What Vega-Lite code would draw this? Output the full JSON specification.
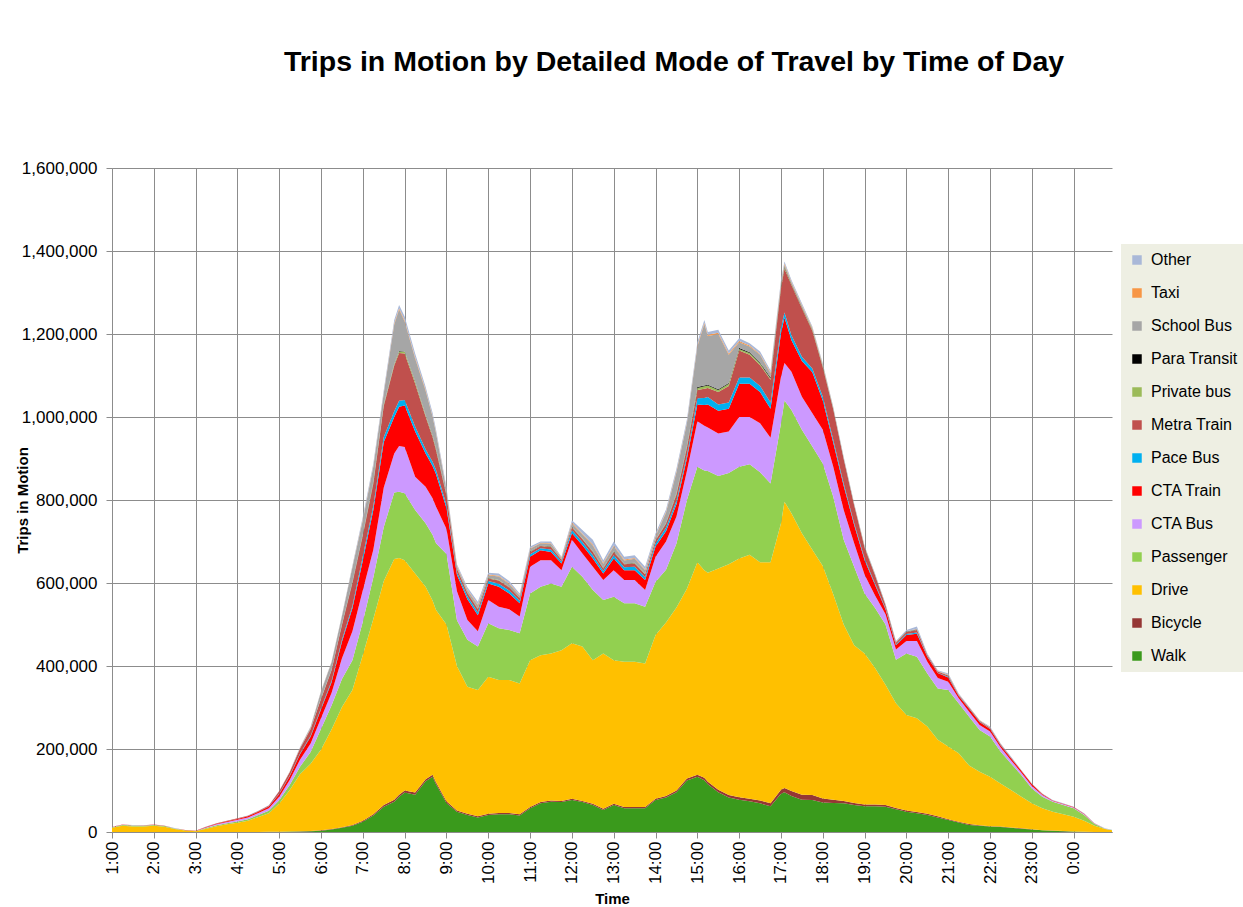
{
  "$schema": "https://vega.github.io/schema/vega-lite/v6.json",
  "width": 1000,
  "height": 664,
  "autosize": {"type": "none"},
  "padding": {"left": 112, "top": 168, "right": 131, "bottom": 75},
  "background": "white",
  "config": {"view": {"stroke": null}, "font": "Liberation Sans"},
  "title": {"text": "Trips in Motion by Detailed Mode of Travel by Time of Day", "fontSize": 28.5, "fontWeight": "bold", "color": "#000000", "anchor": "middle", "dx": 62, "offset": 83},
  "data": {"values": [
{"t":"2000-01-01T01:00","Walk":0,"Bicycle":0,"Drive":10000,"Passenger":1500,"CTA Bus":500,"CTA Train":300,"Pace Bus":0,"Metra Train":200,"Private bus":0,"Para Transit":0,"School Bus":0,"Taxi":0,"Other":200},
{"t":"2000-01-01T01:15","Walk":0,"Bicycle":0,"Drive":15000,"Passenger":2000,"CTA Bus":600,"CTA Train":300,"Pace Bus":0,"Metra Train":200,"Private bus":0,"Para Transit":0,"School Bus":0,"Taxi":0,"Other":200},
{"t":"2000-01-01T01:30","Walk":0,"Bicycle":0,"Drive":13500,"Passenger":2000,"CTA Bus":500,"CTA Train":300,"Pace Bus":0,"Metra Train":200,"Private bus":0,"Para Transit":0,"School Bus":0,"Taxi":0,"Other":200},
{"t":"2000-01-01T01:45","Walk":0,"Bicycle":0,"Drive":13000,"Passenger":2000,"CTA Bus":500,"CTA Train":300,"Pace Bus":0,"Metra Train":200,"Private bus":0,"Para Transit":0,"School Bus":0,"Taxi":0,"Other":200},
{"t":"2000-01-01T02:00","Walk":0,"Bicycle":0,"Drive":15000,"Passenger":2000,"CTA Bus":500,"CTA Train":300,"Pace Bus":0,"Metra Train":200,"Private bus":0,"Para Transit":0,"School Bus":0,"Taxi":0,"Other":200},
{"t":"2000-01-01T02:15","Walk":0,"Bicycle":0,"Drive":12500,"Passenger":1800,"CTA Bus":400,"CTA Train":300,"Pace Bus":0,"Metra Train":200,"Private bus":0,"Para Transit":0,"School Bus":0,"Taxi":0,"Other":200},
{"t":"2000-01-01T02:30","Walk":0,"Bicycle":0,"Drive":7500,"Passenger":1200,"CTA Bus":300,"CTA Train":200,"Pace Bus":0,"Metra Train":100,"Private bus":0,"Para Transit":0,"School Bus":0,"Taxi":0,"Other":200},
{"t":"2000-01-01T02:45","Walk":0,"Bicycle":0,"Drive":3500,"Passenger":800,"CTA Bus":200,"CTA Train":100,"Pace Bus":0,"Metra Train":100,"Private bus":0,"Para Transit":0,"School Bus":0,"Taxi":0,"Other":100},
{"t":"2000-01-01T03:00","Walk":0,"Bicycle":0,"Drive":2000,"Passenger":500,"CTA Bus":200,"CTA Train":100,"Pace Bus":0,"Metra Train":100,"Private bus":0,"Para Transit":0,"School Bus":0,"Taxi":0,"Other":100},
{"t":"2000-01-01T03:15","Walk":0,"Bicycle":0,"Drive":8000,"Passenger":1500,"CTA Bus":1500,"CTA Train":1000,"Pace Bus":0,"Metra Train":800,"Private bus":0,"Para Transit":0,"School Bus":0,"Taxi":0,"Other":200},
{"t":"2000-01-01T03:30","Walk":0,"Bicycle":0,"Drive":14000,"Passenger":2000,"CTA Bus":2500,"CTA Train":1500,"Pace Bus":0,"Metra Train":1000,"Private bus":0,"Para Transit":0,"School Bus":0,"Taxi":0,"Other":300},
{"t":"2000-01-01T03:45","Walk":0,"Bicycle":0,"Drive":18500,"Passenger":2500,"CTA Bus":3000,"CTA Train":2000,"Pace Bus":0,"Metra Train":1000,"Private bus":0,"Para Transit":0,"School Bus":0,"Taxi":0,"Other":300},
{"t":"2000-01-01T04:00","Walk":0,"Bicycle":0,"Drive":22500,"Passenger":3000,"CTA Bus":4000,"CTA Train":2000,"Pace Bus":0,"Metra Train":1500,"Private bus":0,"Para Transit":0,"School Bus":0,"Taxi":0,"Other":300},
{"t":"2000-01-01T04:15","Walk":200,"Bicycle":0,"Drive":27000,"Passenger":3500,"CTA Bus":4500,"CTA Train":2500,"Pace Bus":0,"Metra Train":1500,"Private bus":0,"Para Transit":0,"School Bus":0,"Taxi":0,"Other":300},
{"t":"2000-01-01T04:30","Walk":300,"Bicycle":0,"Drive":36000,"Passenger":4500,"CTA Bus":5000,"CTA Train":3000,"Pace Bus":0,"Metra Train":2000,"Private bus":0,"Para Transit":0,"School Bus":0,"Taxi":0,"Other":400},
{"t":"2000-01-01T04:45","Walk":400,"Bicycle":0,"Drive":45000,"Passenger":6000,"CTA Bus":6000,"CTA Train":4000,"Pace Bus":500,"Metra Train":2000,"Private bus":0,"Para Transit":0,"School Bus":0,"Taxi":0,"Other":500},
{"t":"2000-01-01T05:00","Walk":500,"Bicycle":200,"Drive":68000,"Passenger":8000,"CTA Bus":8000,"CTA Train":7000,"Pace Bus":1000,"Metra Train":6000,"Private bus":0,"Para Transit":0,"School Bus":0,"Taxi":0,"Other":1000},
{"t":"2000-01-01T05:15","Walk":1000,"Bicycle":300,"Drive":100000,"Passenger":12000,"CTA Bus":12000,"CTA Train":9000,"Pace Bus":1500,"Metra Train":8000,"Private bus":0,"Para Transit":0,"School Bus":1000,"Taxi":200,"Other":1000},
{"t":"2000-01-01T05:30","Walk":1500,"Bicycle":400,"Drive":138000,"Passenger":18000,"CTA Bus":17000,"CTA Train":13000,"Pace Bus":2000,"Metra Train":12000,"Private bus":0,"Para Transit":0,"School Bus":2000,"Taxi":300,"Other":1500},
{"t":"2000-01-01T05:45","Walk":2000,"Bicycle":500,"Drive":162000,"Passenger":28000,"CTA Bus":21000,"CTA Train":16000,"Pace Bus":2500,"Metra Train":16000,"Private bus":500,"Para Transit":0,"School Bus":4000,"Taxi":300,"Other":1500},
{"t":"2000-01-01T06:00","Walk":3000,"Bicycle":1000,"Drive":195000,"Passenger":50000,"CTA Bus":26000,"CTA Train":21000,"Pace Bus":3000,"Metra Train":22000,"Private bus":1000,"Para Transit":500,"School Bus":16000,"Taxi":500,"Other":1500},
{"t":"2000-01-01T06:15","Walk":6000,"Bicycle":1000,"Drive":240000,"Passenger":58000,"CTA Bus":30000,"CTA Train":25000,"Pace Bus":4000,"Metra Train":25000,"Private bus":1000,"Para Transit":500,"School Bus":18000,"Taxi":500,"Other":1500},
{"t":"2000-01-01T06:30","Walk":10000,"Bicycle":1500,"Drive":290000,"Passenger":67000,"CTA Bus":50000,"CTA Train":40000,"Pace Bus":5000,"Metra Train":35000,"Private bus":1500,"Para Transit":500,"School Bus":20000,"Taxi":500,"Other":2000},
{"t":"2000-01-01T06:45","Walk":15000,"Bicycle":2000,"Drive":325000,"Passenger":72000,"CTA Bus":70000,"CTA Train":55000,"Pace Bus":6000,"Metra Train":55000,"Private bus":2000,"Para Transit":1000,"School Bus":35000,"Taxi":1000,"Other":3000},
{"t":"2000-01-01T07:00","Walk":25000,"Bicycle":2000,"Drive":400000,"Passenger":80000,"CTA Bus":76000,"CTA Train":72000,"Pace Bus":10000,"Metra Train":50000,"Private bus":2000,"Para Transit":1000,"School Bus":34000,"Taxi":2000,"Other":6000},
{"t":"2000-01-01T07:15","Walk":40000,"Bicycle":3000,"Drive":470000,"Passenger":100000,"CTA Bus":67000,"CTA Train":96000,"Pace Bus":10000,"Metra Train":54000,"Private bus":3000,"Para Transit":1000,"School Bus":36000,"Taxi":2000,"Other":6000},
{"t":"2000-01-01T07:30","Walk":61000,"Bicycle":4000,"Drive":540000,"Passenger":130000,"CTA Bus":95000,"CTA Train":110000,"Pace Bus":12000,"Metra Train":75000,"Private bus":3000,"Para Transit":1000,"School Bus":26000,"Taxi":2000,"Other":6000},
{"t":"2000-01-01T07:45","Walk":73000,"Bicycle":5000,"Drive":580000,"Passenger":160000,"CTA Bus":94000,"CTA Train":88000,"Pace Bus":14000,"Metra Train":110000,"Private bus":3000,"Para Transit":1000,"School Bus":95000,"Taxi":3000,"Other":8000},
{"t":"2000-01-01T07:52","Walk":85000,"Bicycle":5000,"Drive":570000,"Passenger":160000,"CTA Bus":110000,"CTA Train":95000,"Pace Bus":14000,"Metra Train":115000,"Private bus":4000,"Para Transit":1000,"School Bus":100000,"Taxi":3000,"Other":8000},
{"t":"2000-01-01T08:00","Walk":95000,"Bicycle":5000,"Drive":555000,"Passenger":161000,"CTA Bus":112000,"CTA Train":100000,"Pace Bus":13000,"Metra Train":112000,"Private bus":4000,"Para Transit":1000,"School Bus":72000,"Taxi":3000,"Other":9000},
{"t":"2000-01-01T08:15","Walk":90000,"Bicycle":5000,"Drive":528000,"Passenger":153000,"CTA Bus":80000,"CTA Train":109000,"Pace Bus":12000,"Metra Train":104000,"Private bus":4000,"Para Transit":1000,"School Bus":55000,"Taxi":3000,"Other":9000},
{"t":"2000-01-01T08:30","Walk":122000,"Bicycle":5000,"Drive":464000,"Passenger":153000,"CTA Bus":88000,"CTA Train":80000,"Pace Bus":10000,"Metra Train":79000,"Private bus":3000,"Para Transit":1000,"School Bus":58000,"Taxi":3000,"Other":7000},
{"t":"2000-01-01T08:40","Walk":133000,"Bicycle":5000,"Drive":420000,"Passenger":158000,"CTA Bus":88000,"CTA Train":78000,"Pace Bus":10000,"Metra Train":60000,"Private bus":3000,"Para Transit":1000,"School Bus":45000,"Taxi":2000,"Other":7000},
{"t":"2000-01-01T08:45","Walk":115000,"Bicycle":5000,"Drive":415000,"Passenger":161000,"CTA Bus":88000,"CTA Train":78000,"Pace Bus":10000,"Metra Train":48000,"Private bus":3000,"Para Transit":1000,"School Bus":37000,"Taxi":2000,"Other":6000},
{"t":"2000-01-01T09:00","Walk":70000,"Bicycle":4000,"Drive":426000,"Passenger":170000,"CTA Bus":60000,"CTA Train":50000,"Pace Bus":8000,"Metra Train":22000,"Private bus":2000,"Para Transit":1000,"School Bus":10000,"Taxi":2000,"Other":5000},
{"t":"2000-01-01T09:15","Walk":49000,"Bicycle":3000,"Drive":348000,"Passenger":110000,"CTA Bus":70000,"CTA Train":40000,"Pace Bus":6000,"Metra Train":8000,"Private bus":1000,"Para Transit":500,"School Bus":5000,"Taxi":1500,"Other":3000},
{"t":"2000-01-01T09:30","Walk":41000,"Bicycle":3000,"Drive":306000,"Passenger":113000,"CTA Bus":48000,"CTA Train":50000,"Pace Bus":7000,"Metra Train":8000,"Private bus":1000,"Para Transit":500,"School Bus":5000,"Taxi":2000,"Other":5500},
{"t":"2000-01-01T09:45","Walk":35000,"Bicycle":3000,"Drive":304000,"Passenger":105000,"CTA Bus":37000,"CTA Train":38000,"Pace Bus":7000,"Metra Train":8000,"Private bus":1000,"Para Transit":500,"School Bus":8000,"Taxi":2000,"Other":6500},
{"t":"2000-01-01T10:00","Walk":41000,"Bicycle":3000,"Drive":330000,"Passenger":129000,"CTA Bus":56000,"CTA Train":40000,"Pace Bus":6000,"Metra Train":6000,"Private bus":1000,"Para Transit":500,"School Bus":6000,"Taxi":2000,"Other":4500},
{"t":"2000-01-01T10:15","Walk":43000,"Bicycle":3000,"Drive":320000,"Passenger":125000,"CTA Bus":52000,"CTA Train":48000,"Pace Bus":7000,"Metra Train":8000,"Private bus":1000,"Para Transit":500,"School Bus":8000,"Taxi":2000,"Other":5500},
{"t":"2000-01-01T10:30","Walk":43000,"Bicycle":3000,"Drive":320000,"Passenger":121000,"CTA Bus":50000,"CTA Train":38000,"Pace Bus":7000,"Metra Train":7000,"Private bus":1000,"Para Transit":500,"School Bus":7000,"Taxi":2000,"Other":5500},
{"t":"2000-01-01T10:45","Walk":40000,"Bicycle":3000,"Drive":315000,"Passenger":121000,"CTA Bus":40000,"CTA Train":32000,"Pace Bus":6000,"Metra Train":6000,"Private bus":1000,"Para Transit":500,"School Bus":5000,"Taxi":1500,"Other":4000},
{"t":"2000-01-01T11:00","Walk":57000,"Bicycle":3000,"Drive":354000,"Passenger":161000,"CTA Bus":64000,"CTA Train":24000,"Pace Bus":6000,"Metra Train":6000,"Private bus":1000,"Para Transit":500,"School Bus":6000,"Taxi":1500,"Other":4000},
{"t":"2000-01-01T11:15","Walk":69000,"Bicycle":3000,"Drive":354000,"Passenger":165000,"CTA Bus":64000,"CTA Train":24000,"Pace Bus":5000,"Metra Train":5000,"Private bus":1000,"Para Transit":500,"School Bus":5000,"Taxi":1500,"Other":3000},
{"t":"2000-01-01T11:30","Walk":73000,"Bicycle":3000,"Drive":354000,"Passenger":169000,"CTA Bus":56000,"CTA Train":20000,"Pace Bus":6000,"Metra Train":6000,"Private bus":1000,"Para Transit":500,"School Bus":6000,"Taxi":1500,"Other":4000},
{"t":"2000-01-01T11:45","Walk":72000,"Bicycle":3000,"Drive":363000,"Passenger":153000,"CTA Bus":40000,"CTA Train":16000,"Pace Bus":5000,"Metra Train":4000,"Private bus":1000,"Para Transit":500,"School Bus":3000,"Taxi":1000,"Other":1500},
{"t":"2000-01-01T12:00","Walk":77000,"Bicycle":3000,"Drive":375000,"Passenger":184000,"CTA Bus":65000,"CTA Train":16000,"Pace Bus":8000,"Metra Train":6000,"Private bus":1000,"Para Transit":500,"School Bus":8000,"Taxi":2000,"Other":5500},
{"t":"2000-01-01T12:15","Walk":72000,"Bicycle":3000,"Drive":372000,"Passenger":168000,"CTA Bus":56000,"CTA Train":20000,"Pace Bus":8000,"Metra Train":7000,"Private bus":1000,"Para Transit":500,"School Bus":10000,"Taxi":2000,"Other":8500},
{"t":"2000-01-01T12:30","Walk":65000,"Bicycle":3000,"Drive":346000,"Passenger":169000,"CTA Bus":56000,"CTA Train":20000,"Pace Bus":8000,"Metra Train":8000,"Private bus":1000,"Para Transit":500,"School Bus":14000,"Taxi":2000,"Other":11500},
{"t":"2000-01-01T12:45","Walk":53000,"Bicycle":3000,"Drive":374000,"Passenger":129000,"CTA Bus":48000,"CTA Train":16000,"Pace Bus":6000,"Metra Train":6000,"Private bus":1000,"Para Transit":500,"School Bus":10000,"Taxi":2000,"Other":6500},
{"t":"2000-01-01T13:00","Walk":65000,"Bicycle":3000,"Drive":346000,"Passenger":153000,"CTA Bus":64000,"CTA Train":28000,"Pace Bus":8000,"Metra Train":8000,"Private bus":1000,"Para Transit":500,"School Bus":12000,"Taxi":2000,"Other":9500},
{"t":"2000-01-01T13:15","Walk":57000,"Bicycle":3000,"Drive":350000,"Passenger":141000,"CTA Bus":56000,"CTA Train":24000,"Pace Bus":7000,"Metra Train":7000,"Private bus":1000,"Para Transit":500,"School Bus":8000,"Taxi":2000,"Other":6500},
{"t":"2000-01-01T13:30","Walk":57000,"Bicycle":3000,"Drive":350000,"Passenger":141000,"CTA Bus":56000,"CTA Train":24000,"Pace Bus":8000,"Metra Train":8000,"Private bus":1000,"Para Transit":500,"School Bus":10000,"Taxi":2000,"Other":6500},
{"t":"2000-01-01T13:45","Walk":57000,"Bicycle":3000,"Drive":346000,"Passenger":137000,"CTA Bus":40000,"CTA Train":24000,"Pace Bus":7000,"Metra Train":7000,"Private bus":1000,"Para Transit":500,"School Bus":8000,"Taxi":2000,"Other":6500},
{"t":"2000-01-01T14:00","Walk":77000,"Bicycle":3000,"Drive":395000,"Passenger":128000,"CTA Bus":60000,"CTA Train":25000,"Pace Bus":7000,"Metra Train":8000,"Private bus":1000,"Para Transit":500,"School Bus":8000,"Taxi":2000,"Other":5500},
{"t":"2000-01-01T14:15","Walk":83000,"Bicycle":4000,"Drive":418000,"Passenger":127000,"CTA Bus":68000,"CTA Train":25000,"Pace Bus":8000,"Metra Train":10000,"Private bus":1000,"Para Transit":500,"School Bus":25000,"Taxi":2000,"Other":5500},
{"t":"2000-01-01T14:30","Walk":96000,"Bicycle":4000,"Drive":441000,"Passenger":154000,"CTA Bus":65000,"CTA Train":30000,"Pace Bus":8000,"Metra Train":15000,"Private bus":3000,"Para Transit":1000,"School Bus":50000,"Taxi":2000,"Other":7000},
{"t":"2000-01-01T14:45","Walk":124000,"Bicycle":5000,"Drive":457000,"Passenger":214000,"CTA Bus":70000,"CTA Train":30000,"Pace Bus":8000,"Metra Train":18000,"Private bus":3000,"Para Transit":1000,"School Bus":55000,"Taxi":2000,"Other":7000},
{"t":"2000-01-01T15:00","Walk":133000,"Bicycle":5000,"Drive":512000,"Passenger":230000,"CTA Bus":110000,"CTA Train":40000,"Pace Bus":15000,"Metra Train":20000,"Private bus":5000,"Para Transit":2000,"School Bus":98000,"Taxi":3000,"Other":7000},
{"t":"2000-01-01T15:10","Walk":125000,"Bicycle":6000,"Drive":500000,"Passenger":240000,"CTA Bus":108000,"CTA Train":50000,"Pace Bus":17000,"Metra Train":22000,"Private bus":6000,"Para Transit":2000,"School Bus":148000,"Taxi":3000,"Other":7000},
{"t":"2000-01-01T15:15","Walk":115000,"Bicycle":6000,"Drive":504000,"Passenger":245000,"CTA Bus":105000,"CTA Train":55000,"Pace Bus":18000,"Metra Train":22000,"Private bus":6000,"Para Transit":2000,"School Bus":117000,"Taxi":3000,"Other":7000},
{"t":"2000-01-01T15:30","Walk":96000,"Bicycle":6000,"Drive":533000,"Passenger":223000,"CTA Bus":102000,"CTA Train":55000,"Pace Bus":15000,"Metra Train":30000,"Private bus":5000,"Para Transit":2000,"School Bus":133000,"Taxi":3000,"Other":7000},
{"t":"2000-01-01T15:45","Walk":83000,"Bicycle":6000,"Drive":556000,"Passenger":220000,"CTA Bus":100000,"CTA Train":55000,"Pace Bus":15000,"Metra Train":40000,"Private bus":5000,"Para Transit":2000,"School Bus":68000,"Taxi":3000,"Other":7000},
{"t":"2000-01-01T16:00","Walk":78000,"Bicycle":6000,"Drive":575000,"Passenger":221000,"CTA Bus":120000,"CTA Train":80000,"Pace Bus":15000,"Metra Train":65000,"Private bus":4000,"Para Transit":2000,"School Bus":14000,"Taxi":3000,"Other":7000},
{"t":"2000-01-01T16:15","Walk":74000,"Bicycle":6000,"Drive":588000,"Passenger":218000,"CTA Bus":114000,"CTA Train":80000,"Pace Bus":15000,"Metra Train":55000,"Private bus":4000,"Para Transit":2000,"School Bus":14000,"Taxi":2000,"Other":6000},
{"t":"2000-01-01T16:30","Walk":69000,"Bicycle":7000,"Drive":574000,"Passenger":217000,"CTA Bus":118000,"CTA Train":75000,"Pace Bus":15000,"Metra Train":50000,"Private bus":4000,"Para Transit":2000,"School Bus":19000,"Taxi":2000,"Other":6000},
{"t":"2000-01-01T16:45","Walk":62000,"Bicycle":7000,"Drive":581000,"Passenger":190000,"CTA Bus":110000,"CTA Train":70000,"Pace Bus":15000,"Metra Train":55000,"Private bus":3000,"Para Transit":2000,"School Bus":10000,"Taxi":2000,"Other":5000},
{"t":"2000-01-01T17:00","Walk":92000,"Bicycle":10000,"Drive":642000,"Passenger":241000,"CTA Bus":112000,"CTA Train":105000,"Pace Bus":13000,"Metra Train":95000,"Private bus":3000,"Para Transit":2000,"School Bus":5000,"Taxi":3000,"Other":7000},
{"t":"2000-01-01T17:05","Walk":96000,"Bicycle":10000,"Drive":690000,"Passenger":244000,"CTA Bus":90000,"CTA Train":110000,"Pace Bus":12000,"Metra Train":105000,"Private bus":3000,"Para Transit":2000,"School Bus":5000,"Taxi":3000,"Other":5000},
{"t":"2000-01-01T17:15","Walk":87000,"Bicycle":12000,"Drive":669000,"Passenger":249000,"CTA Bus":92000,"CTA Train":76000,"Pace Bus":12000,"Metra Train":121000,"Private bus":2000,"Para Transit":1000,"School Bus":3000,"Taxi":2000,"Other":4000},
{"t":"2000-01-01T17:30","Walk":78000,"Bicycle":12000,"Drive":630000,"Passenger":249000,"CTA Bus":80000,"CTA Train":86000,"Pace Bus":10000,"Metra Train":117000,"Private bus":2000,"Para Transit":1000,"School Bus":3000,"Taxi":2000,"Other":4000},
{"t":"2000-01-01T17:45","Walk":77000,"Bicycle":12000,"Drive":591000,"Passenger":249000,"CTA Bus":80000,"CTA Train":99000,"Pace Bus":9000,"Metra Train":91000,"Private bus":2000,"Para Transit":1000,"School Bus":2000,"Taxi":2000,"Other":3000},
{"t":"2000-01-01T18:00","Walk":71000,"Bicycle":10000,"Drive":560000,"Passenger":247000,"CTA Bus":81000,"CTA Train":71000,"Pace Bus":9000,"Metra Train":71000,"Private bus":2000,"Para Transit":1000,"School Bus":2000,"Taxi":1000,"Other":3000},
{"t":"2000-01-01T18:15","Walk":70000,"Bicycle":8000,"Drive":495000,"Passenger":235000,"CTA Bus":72000,"CTA Train":58000,"Pace Bus":7000,"Metra Train":73000,"Private bus":1000,"Para Transit":1000,"School Bus":2000,"Taxi":1000,"Other":2000},
{"t":"2000-01-01T18:30","Walk":69000,"Bicycle":6000,"Drive":425000,"Passenger":204000,"CTA Bus":72000,"CTA Train":58000,"Pace Bus":6000,"Metra Train":58000,"Private bus":1000,"Para Transit":500,"School Bus":1500,"Taxi":1000,"Other":2000},
{"t":"2000-01-01T18:45","Walk":65000,"Bicycle":5000,"Drive":380000,"Passenger":189000,"CTA Bus":57000,"CTA Train":44000,"Pace Bus":4000,"Metra Train":43000,"Private bus":1000,"Para Transit":500,"School Bus":1500,"Taxi":500,"Other":1500},
{"t":"2000-01-01T19:00","Walk":62000,"Bicycle":4000,"Drive":364000,"Passenger":145000,"CTA Bus":45000,"CTA Train":35000,"Pace Bus":4000,"Metra Train":26000,"Private bus":1000,"Para Transit":500,"School Bus":1000,"Taxi":500,"Other":2000},
{"t":"2000-01-01T19:15","Walk":62000,"Bicycle":4000,"Drive":329000,"Passenger":145000,"CTA Bus":30000,"CTA Train":25000,"Pace Bus":3000,"Metra Train":20000,"Private bus":500,"Para Transit":500,"School Bus":1000,"Taxi":500,"Other":2500},
{"t":"2000-01-01T19:30","Walk":61000,"Bicycle":4000,"Drive":290000,"Passenger":145000,"CTA Bus":25000,"CTA Train":12000,"Pace Bus":2000,"Metra Train":7000,"Private bus":500,"Para Transit":500,"School Bus":500,"Taxi":500,"Other":2000},
{"t":"2000-01-01T19:45","Walk":55000,"Bicycle":3000,"Drive":252000,"Passenger":105000,"CTA Bus":25000,"CTA Train":10000,"Pace Bus":2000,"Metra Train":4000,"Private bus":500,"Para Transit":500,"School Bus":500,"Taxi":500,"Other":2000},
{"t":"2000-01-01T20:00","Walk":49000,"Bicycle":3000,"Drive":230000,"Passenger":148000,"CTA Bus":30000,"CTA Train":15000,"Pace Bus":2000,"Metra Train":5000,"Private bus":500,"Para Transit":500,"School Bus":500,"Taxi":500,"Other":3000},
{"t":"2000-01-01T20:15","Walk":45000,"Bicycle":3000,"Drive":226000,"Passenger":148000,"CTA Bus":38000,"CTA Train":18000,"Pace Bus":3000,"Metra Train":6000,"Private bus":500,"Para Transit":500,"School Bus":1000,"Taxi":500,"Other":5500},
{"t":"2000-01-01T20:30","Walk":41000,"Bicycle":3000,"Drive":210000,"Passenger":128000,"CTA Bus":28000,"CTA Train":12000,"Pace Bus":2000,"Metra Train":3000,"Private bus":0,"Para Transit":0,"School Bus":500,"Taxi":500,"Other":2000},
{"t":"2000-01-01T20:45","Walk":35000,"Bicycle":3000,"Drive":184000,"Passenger":124000,"CTA Bus":25000,"CTA Train":12000,"Pace Bus":1000,"Metra Train":3000,"Private bus":0,"Para Transit":0,"School Bus":500,"Taxi":500,"Other":2000},
{"t":"2000-01-01T21:00","Walk":29000,"Bicycle":2000,"Drive":175000,"Passenger":136000,"CTA Bus":20000,"CTA Train":10000,"Pace Bus":2000,"Metra Train":3000,"Private bus":500,"Para Transit":500,"School Bus":1000,"Taxi":500,"Other":2500},
{"t":"2000-01-01T21:15","Walk":23000,"Bicycle":2000,"Drive":165000,"Passenger":120000,"CTA Bus":12000,"CTA Train":6000,"Pace Bus":1000,"Metra Train":2000,"Private bus":0,"Para Transit":0,"School Bus":500,"Taxi":500,"Other":2000},
{"t":"2000-01-01T21:30","Walk":17000,"Bicycle":2000,"Drive":141000,"Passenger":118000,"CTA Bus":12000,"CTA Train":7000,"Pace Bus":1000,"Metra Train":2000,"Private bus":0,"Para Transit":0,"School Bus":500,"Taxi":500,"Other":1000},
{"t":"2000-01-01T21:45","Walk":15000,"Bicycle":1000,"Drive":129000,"Passenger":101000,"CTA Bus":12000,"CTA Train":7000,"Pace Bus":1000,"Metra Train":2000,"Private bus":0,"Para Transit":0,"School Bus":500,"Taxi":500,"Other":1000},
{"t":"2000-01-01T22:00","Walk":13000,"Bicycle":1000,"Drive":119000,"Passenger":97000,"CTA Bus":12000,"CTA Train":6000,"Pace Bus":1000,"Metra Train":2000,"Private bus":0,"Para Transit":0,"School Bus":500,"Taxi":500,"Other":2000},
{"t":"2000-01-01T22:15","Walk":12000,"Bicycle":1000,"Drive":104000,"Passenger":77000,"CTA Bus":10000,"CTA Train":5000,"Pace Bus":1000,"Metra Train":2000,"Private bus":0,"Para Transit":0,"School Bus":0,"Taxi":500,"Other":1500},
{"t":"2000-01-01T22:30","Walk":10000,"Bicycle":1000,"Drive":90000,"Passenger":64000,"CTA Bus":8000,"CTA Train":5000,"Pace Bus":500,"Metra Train":1500,"Private bus":0,"Para Transit":0,"School Bus":0,"Taxi":0,"Other":2000},
{"t":"2000-01-01T22:45","Walk":8000,"Bicycle":1000,"Drive":76000,"Passenger":52000,"CTA Bus":6000,"CTA Train":4000,"Pace Bus":0,"Metra Train":1000,"Private bus":0,"Para Transit":0,"School Bus":0,"Taxi":0,"Other":1000},
{"t":"2000-01-01T23:00","Walk":6000,"Bicycle":500,"Drive":62500,"Passenger":36000,"CTA Bus":6000,"CTA Train":4000,"Pace Bus":0,"Metra Train":1000,"Private bus":0,"Para Transit":0,"School Bus":0,"Taxi":0,"Other":1000},
{"t":"2000-01-01T23:15","Walk":4000,"Bicycle":500,"Drive":52500,"Passenger":28000,"CTA Bus":4000,"CTA Train":2000,"Pace Bus":0,"Metra Train":1000,"Private bus":0,"Para Transit":0,"School Bus":0,"Taxi":0,"Other":1000},
{"t":"2000-01-01T23:30","Walk":3000,"Bicycle":500,"Drive":45500,"Passenger":24000,"CTA Bus":2000,"CTA Train":1000,"Pace Bus":0,"Metra Train":0,"Private bus":0,"Para Transit":0,"School Bus":0,"Taxi":0,"Other":1000},
{"t":"2000-01-01T23:45","Walk":2000,"Bicycle":500,"Drive":40500,"Passenger":22000,"CTA Bus":2000,"CTA Train":1000,"Pace Bus":0,"Metra Train":0,"Private bus":0,"Para Transit":0,"School Bus":0,"Taxi":0,"Other":1000},
{"t":"2000-01-02T00:00","Walk":1000,"Bicycle":300,"Drive":35700,"Passenger":20000,"CTA Bus":2000,"CTA Train":1000,"Pace Bus":0,"Metra Train":0,"Private bus":0,"Para Transit":0,"School Bus":0,"Taxi":0,"Other":1000},
{"t":"2000-01-02T00:15","Walk":500,"Bicycle":0,"Drive":26500,"Passenger":14000,"CTA Bus":2000,"CTA Train":1000,"Pace Bus":0,"Metra Train":0,"Private bus":0,"Para Transit":0,"School Bus":0,"Taxi":0,"Other":1000},
{"t":"2000-01-02T00:30","Walk":0,"Bicycle":0,"Drive":15000,"Passenger":4000,"CTA Bus":1000,"CTA Train":500,"Pace Bus":0,"Metra Train":0,"Private bus":0,"Para Transit":0,"School Bus":0,"Taxi":0,"Other":500},
{"t":"2000-01-02T00:45","Walk":0,"Bicycle":0,"Drive":7000,"Passenger":1000,"CTA Bus":500,"CTA Train":0,"Pace Bus":0,"Metra Train":0,"Private bus":0,"Para Transit":0,"School Bus":0,"Taxi":0,"Other":500},
{"t":"2000-01-02T00:55","Walk":0,"Bicycle":0,"Drive":4000,"Passenger":1000,"CTA Bus":0,"CTA Train":0,"Pace Bus":0,"Metra Train":0,"Private bus":0,"Para Transit":0,"School Bus":0,"Taxi":0,"Other":500}
  ]},
  "transform": [
    {"fold": ["Walk","Bicycle","Drive","Passenger","CTA Bus","CTA Train","Pace Bus","Metra Train","Private bus","Para Transit","School Bus","Taxi","Other"], "as": ["mode","trips"]},
    {"lookup": "mode", "from": {"data": {"values": [
      {"mode":"Walk","rank":1},{"mode":"Bicycle","rank":2},{"mode":"Drive","rank":3},{"mode":"Passenger","rank":4},
      {"mode":"CTA Bus","rank":5},{"mode":"CTA Train","rank":6},{"mode":"Pace Bus","rank":7},{"mode":"Metra Train","rank":8},
      {"mode":"Private bus","rank":9},{"mode":"Para Transit","rank":10},{"mode":"School Bus","rank":11},{"mode":"Taxi","rank":12},{"mode":"Other","rank":13}
    ]}, "key": "mode", "fields": ["rank"]}}
  ],
  "mark": {"type": "area", "interpolate": "linear"},
  "encoding": {
    "x": {
      "field": "t", "type": "temporal",
      "axis": {
        "title": "Time", "titleFontSize": 15, "titleFontWeight": "bold", "titleColor": "#000000",
        "titleX": 500, "titleY": 66, "titleAlign": "center", "titleBaseline": "middle",
        "format": "%-H:%M", "labelAngle": 270, "labelFontSize": 17, "labelColor": "#000000",
        "labelPadding": 3, "labelOverlap": false, "labelFlush": false,
        "grid": true, "gridColor": "#8C8C8C", "gridWidth": 1,
        "tickColor": "#8C8C8C", "tickSize": 6, "domainColor": "#8C8C8C"
      }
    },
    "y": {
      "field": "trips", "type": "quantitative", "stack": "zero",
      "scale": {"domain": [0, 1600000], "nice": false},
      "axis": {
        "title": "Trips in Motion", "titleFontSize": 15, "titleFontWeight": "bold", "titleColor": "#000000",
        "titleX": -90, "titleY": 332, "titleAngle": 270, "titleAlign": "center", "titleBaseline": "middle",
        "format": ",d", "values": [0, 200000, 400000, 600000, 800000, 1000000, 1200000, 1400000, 1600000],
        "labelFontSize": 17, "labelColor": "#000000", "labelPadding": 9,
        "grid": true, "gridColor": "#8C8C8C", "gridWidth": 1,
        "tickColor": "#8C8C8C", "tickSize": 6, "domainColor": "#8C8C8C"
      }
    },
    "order": {"field": "rank", "type": "quantitative", "sort": "ascending"},
    "color": {
      "field": "mode", "type": "nominal",
      "sort": ["Other","Taxi","School Bus","Para Transit","Private bus","Metra Train","Pace Bus","CTA Train","CTA Bus","Passenger","Drive","Bicycle","Walk"],
      "scale": {"range": ["#A9B8D8","#F79646","#A6A6A6","#000000","#9BBB59","#C0504D","#00B0F0","#FF0000","#CC99FF","#92D050","#FFC000","#953735","#3A9A1C"]},
      "legend": {
        "orient": "none", "legendX": 1009, "legendY": 76,
        "title": null, "symbolType": "square", "symbolSize": 90, "symbolStrokeWidth": 0,
        "labelFontSize": 16, "labelColor": "#000000", "labelOffset": 6,
        "fillColor": "#EEEFE3", "padding": 8, "rowPadding": 17
      }
    }
  }
}
